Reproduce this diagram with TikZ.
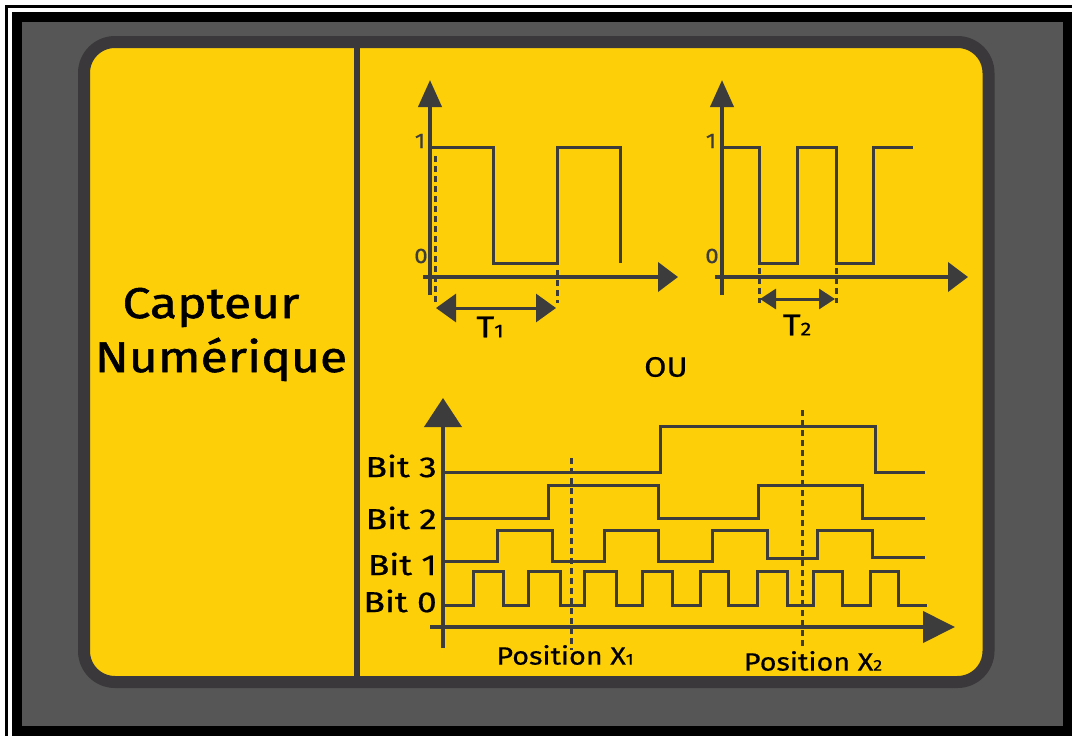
\documentclass[tikz,border=0pt]{standalone}
\usepackage{fontspec}
\setmainfont{Fira Sans}
\newfontfamily\headfont[FakeStretch=1.16,FakeBold=1.3]{Fira Sans}
\newfontfamily\labfont[FakeStretch=1.15,FakeBold=0.6]{Fira Sans}
\newfontfamily\bitfont[FakeStretch=1.22,FakeBold=0.6]{Fira Sans}
\usetikzlibrary{arrows.meta}
\definecolor{panelyellow}{RGB}{253,207,9}
\definecolor{framegray}{RGB}{86,86,86}
\definecolor{rimgray}{RGB}{58,56,58}
\definecolor{inkgray}{RGB}{60,60,60}
\tikzset{
  sig/.style={draw=inkgray,line width=3pt,line join=miter},
  axis/.style={draw=inkgray,line width=4pt},
  dashline/.style={draw=inkgray,line width=3pt,dash pattern=on 6pt off 4pt},
  tick/.style={text=inkgray,font=\labfont\fontsize{21}{21}\selectfont,inner sep=0pt},
  bitlbl/.style={text=black,font=\bitfont\fontsize{29}{29}\selectfont,inner sep=0pt,anchor=east},
  poslbl/.style={text=black,font=\labfont\fontsize{25}{25}\selectfont,inner sep=0pt},
  perlbl/.style={text=black,font=\labfont\fontsize{30}{30}\selectfont,inner sep=0pt},
  period/.style={draw=inkgray,line width=3pt,{Triangle[length=20pt,width=28pt]}-{Triangle[length=20pt,width=28pt]}},
}
\newcommand{\subdigit}[1]{{\fontsize{0.62em}{1em}\selectfont #1}}
\begin{document}
\begin{tikzpicture}[x=1pt,y=-1pt]
\useasboundingbox (0,0) rectangle (1072,736);
% frame
\fill[white] (0,0) rectangle (1072,736);
\fill[black] (5,5) rectangle (1072,736);
\fill[white] (8,8) rectangle (1072,736);
\fill[black] (12,12) rectangle (1072,736);
\fill[framegray] (22,22) rectangle (1063,726);
% yellow panel with dark rim
\draw[rimgray,line width=12pt,fill=panelyellow,rounded corners=31pt] (84,42) rectangle (988.5,682);
\draw[rimgray,line width=6pt] (357,48) -- (357,676);
% title
\node[font=\headfont\fontsize{43}{43}\selectfont,text=black,anchor=base] (tcap) at (211,318) {Capteur};
\node[font=\headfont\fontsize{43}{43}\selectfont,text=black,anchor=base] (tnum) at (221,372) {Numérique};

% ---- first square wave (period T1)
\coordinate (ay1b) at (430,295); \coordinate (ay1t) at (430,80);
\coordinate (ax1l) at (423,277); \coordinate (ax1r) at (678,277);
\draw[axis,-{Triangle[length=27pt,width=23pt]}] (ay1b) -- (ay1t);
\draw[axis,-{Triangle[length=20pt,width=29pt]}] (ax1l) -- (ax1r);
\draw[sig] (430,147) -| (493,263) -| (557,147) -| (620,263);
\node[tick] (one1) at (420,141) {1};
\node[tick] (zero1) at (421,256) {0};
\coordinate (d1a) at (435,156); \coordinate (d1b) at (435,303);
\coordinate (d2a) at (557,270); \coordinate (d2b) at (557,303);
\draw[dashline] (d1a) -- (d1b);
\draw[dashline] (d2a) -- (d2b);
\coordinate (p1l) at (436,308); \coordinate (p1r) at (556,308);
\draw[period] (p1l) -- (p1r);
\node[perlbl] (tone) at (490,327) {T\subdigit{1}};

% ---- second square wave (period T2)
\coordinate (ay2b) at (722,295); \coordinate (ay2t) at (722,80);
\coordinate (ax2l) at (715,277); \coordinate (ax2r) at (968,277);
\draw[axis,-{Triangle[length=27pt,width=23pt]}] (ay2b) -- (ay2t);
\draw[axis,-{Triangle[length=20pt,width=29pt]}] (ax2l) -- (ax2r);
\draw[sig] (722,147) -| (759,263) -| (797,147) -| (836,263) -| (873,147) -- (913,147);
\node[tick] (one2) at (711,141) {1};
\node[tick] (zero2) at (712,256) {0};
\coordinate (d3a) at (759,268); \coordinate (d3b) at (759,303);
\coordinate (d4a) at (836,268); \coordinate (d4b) at (836,303);
\draw[dashline] (d3a) -- (d3b);
\draw[dashline] (d4a) -- (d4b);
\coordinate (p2l) at (760,299); \coordinate (p2r) at (835,299);
\draw[draw=inkgray,line width=3pt,{Triangle[length=16pt,width=20pt]}-{Triangle[length=16pt,width=20pt]}] (p2l) -- (p2r);
\node[perlbl] (ttwo) at (797,325) {T\subdigit{2}};

\node[font=\labfont\fontsize{28}{28}\selectfont,text=black,inner sep=0pt] (ou) at (666,367) {OU};

% ---- 4-bit position code
\coordinate (ay3b) at (443,648); \coordinate (ay3t) at (443,398);
\coordinate (ax3l) at (430,627); \coordinate (ax3r) at (955,627);
\draw[axis,-{Triangle[length=29pt,width=37pt]}] (ay3b) -- (ay3t);
\draw[axis,-{Triangle[length=32pt,width=31pt]}] (ax3l) -- (ax3r);
\draw[sig] (443,472) -| (660,426) -| (875,472) -- (925,472);
\draw[sig] (443,518) -| (548,485) -| (658,518) -| (758,485) -| (862,518) -- (925,518);
\draw[sig] (443,561) -| (497,530) -| (552,561) -| (604,530) -| (658,561) -| (712,530) -| (767,558) -| (817,530) -| (872,557) -- (925,557);
\draw[sig] (443,605) -| (473,571) -| (503,605) -| (528,571) -| (560,605) -| (584,571) -| (616,605) -| (642,571) -| (672,605) -| (700,571) -| (728,605) -| (757,571) -| (787,605) -| (813,571) -| (842,605) -| (870,571) -| (898,605) -- (927,605);
\node[bitlbl] (b3) at (437,466) {Bit 3};
\node[bitlbl] (b2) at (437,518) {Bit 2};
\node[bitlbl] (b1) at (437,564) {Bit 1};
\node[bitlbl] (b0) at (437,601) {Bit 0};
\coordinate (x1a) at (571,458); \coordinate (x1b) at (571,650);
\coordinate (x2a) at (802,410); \coordinate (x2b) at (802,648);
\draw[dashline] (x1a) -- (x1b);
\draw[dashline] (x2a) -- (x2b);
\node[poslbl] (px1) at (565,655) {Position X\subdigit{1}};
\node[poslbl] (px2) at (813,661) {Position X\subdigit{2}};
\end{tikzpicture}
\end{document}
